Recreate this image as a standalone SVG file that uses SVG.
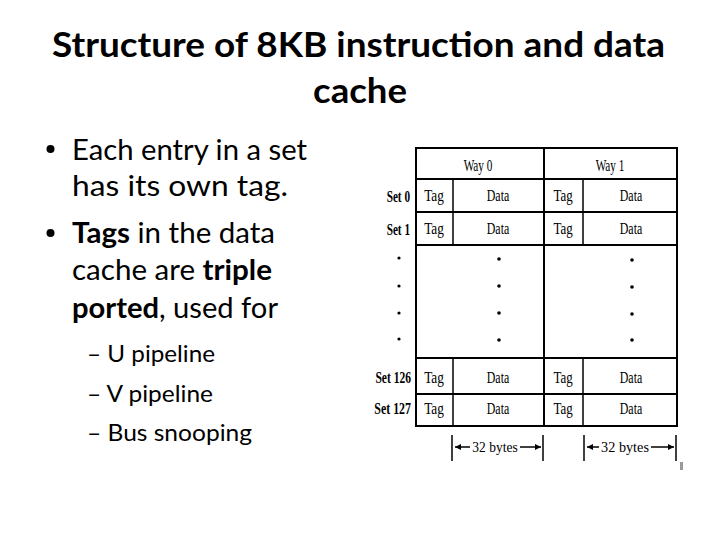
<svg xmlns="http://www.w3.org/2000/svg" width="720" height="540" viewBox="0 0 720 540">
<defs>
<style>
.title{font-family:Lato,"Open Sans","Liberation Sans",sans-serif;font-weight:bold;font-size:34px;fill:#000}
.b{font-family:Lato,"Open Sans","Liberation Sans",sans-serif;font-size:28px;fill:#000}
.s{font-family:Lato,"Open Sans","Liberation Sans",sans-serif;font-size:24px;fill:#000}
.bold{font-weight:bold}
.t{font-family:"Liberation Serif","Times New Roman",serif;font-size:17px;fill:#000;text-anchor:middle}
.d{font-family:"Liberation Serif","Times New Roman",serif;font-size:15px;fill:#000;text-anchor:middle}
.lab{font-family:"Liberation Serif","Times New Roman",serif;font-size:17px;fill:#000;text-anchor:end;font-weight:bold}
.ln{stroke:#000;stroke-width:2;fill:none}
.thin{stroke:#000;stroke-width:1.5;fill:none}
.dot{fill:#000}
</style>
<marker id="ah" viewBox="0 0 10 10" refX="10" refY="5" markerWidth="10" markerHeight="6" markerUnits="userSpaceOnUse" orient="auto-start-reverse">
<path d="M0,0 L10,5 L0,10 z" fill="#000"/>
</marker>
</defs>
<rect width="720" height="540" fill="#fff"/>
<g id="title">
<text class="title" x="52" y="57" textLength="613" lengthAdjust="spacingAndGlyphs">Structure of 8KB instruction and data</text>
<text class="title" x="313" y="103" textLength="94" lengthAdjust="spacingAndGlyphs">cache</text>
</g>
<g id="bullets">
<circle class="dot" cx="50.5" cy="149" r="4"/>
<text class="b" x="72" y="160" textLength="235" lengthAdjust="spacingAndGlyphs">Each entry in a set</text>
<text class="b" x="72" y="196" textLength="216" lengthAdjust="spacingAndGlyphs">has its own tag.</text>
<circle class="dot" cx="50.5" cy="233" r="4"/>
<text class="b" x="72" y="243" textLength="203" lengthAdjust="spacingAndGlyphs"><tspan class="bold">Tags</tspan> in the data</text>
<text class="b" x="72" y="280" textLength="200" lengthAdjust="spacingAndGlyphs">cache are <tspan class="bold">triple</tspan></text>
<text class="b" x="72" y="318" textLength="206" lengthAdjust="spacingAndGlyphs"><tspan class="bold">ported</tspan>, used for</text>
<text class="s" x="87" y="362" textLength="128" lengthAdjust="spacingAndGlyphs">– U pipeline</text>
<text class="s" x="87" y="402" textLength="126" lengthAdjust="spacingAndGlyphs">– V pipeline</text>
<text class="s" x="87" y="441" textLength="165" lengthAdjust="spacingAndGlyphs">– Bus snooping</text>
</g>
<g id="table">
<rect class="ln" x="416" y="148" width="261" height="278" stroke-width="2.5"/>
<line class="ln" x1="416" y1="179" x2="677" y2="179"/>
<line class="ln" x1="416" y1="212" x2="677" y2="212"/>
<line class="ln" x1="416" y1="245" x2="677" y2="245"/>
<line class="ln" x1="416" y1="358" x2="677" y2="358"/>
<line class="ln" x1="416" y1="394" x2="677" y2="394"/>
<line class="ln" x1="544" y1="148" x2="544" y2="426"/>
<line class="thin" x1="453" y1="179" x2="453" y2="245"/>
<line class="thin" x1="583" y1="179" x2="583" y2="245"/>
<line class="thin" x1="453" y1="358" x2="453" y2="426"/>
<line class="thin" x1="583" y1="358" x2="583" y2="426"/>
<text class="t" transform="translate(478,171) scale(0.66,1)">Way 0</text>
<text class="t" transform="translate(610,171) scale(0.66,1)">Way 1</text>
</g>
<g id="set0">
<text class="lab" transform="translate(410,202) scale(0.66,1)">Set 0</text>
<text class="t" transform="translate(434,201) scale(0.78,1)">Tag</text>
<text class="t" transform="translate(498,201) scale(0.7,1)">Data</text>
<text class="t" transform="translate(563,201) scale(0.76,1)">Tag</text>
<text class="t" transform="translate(631,201) scale(0.7,1)">Data</text>
</g>
<g id="set1">
<text class="lab" transform="translate(410,235) scale(0.66,1)">Set 1</text>
<text class="t" transform="translate(434,234) scale(0.78,1)">Tag</text>
<text class="t" transform="translate(498,234) scale(0.7,1)">Data</text>
<text class="t" transform="translate(563,234) scale(0.76,1)">Tag</text>
<text class="t" transform="translate(631,234) scale(0.7,1)">Data</text>
</g>
<g id="dots">
<circle class="dot" cx="399" cy="258" r="1.6"/>
<circle class="dot" cx="399" cy="286" r="1.6"/>
<circle class="dot" cx="399" cy="313" r="1.6"/>
<circle class="dot" cx="399" cy="339" r="1.6"/>
<circle class="dot" cx="499" cy="259" r="1.8"/>
<circle class="dot" cx="499" cy="286" r="1.8"/>
<circle class="dot" cx="499" cy="313" r="1.8"/>
<circle class="dot" cx="499" cy="340" r="1.8"/>
<circle class="dot" cx="632" cy="260" r="1.8"/>
<circle class="dot" cx="632" cy="287" r="1.8"/>
<circle class="dot" cx="632" cy="314" r="1.8"/>
<circle class="dot" cx="632" cy="340" r="1.8"/>
</g>
<g id="set126">
<text class="lab" transform="translate(411,383) scale(0.68,1)">Set 126</text>
<text class="t" transform="translate(434,383) scale(0.78,1)">Tag</text>
<text class="t" transform="translate(498,383) scale(0.7,1)">Data</text>
<text class="t" transform="translate(563,383) scale(0.76,1)">Tag</text>
<text class="t" transform="translate(631,383) scale(0.7,1)">Data</text>
</g>
<g id="set127">
<text class="lab" transform="translate(411,414) scale(0.7,1)">Set 127</text>
<text class="t" transform="translate(434,414) scale(0.78,1)">Tag</text>
<text class="t" transform="translate(498,414) scale(0.7,1)">Data</text>
<text class="t" transform="translate(563,414) scale(0.76,1)">Tag</text>
<text class="t" transform="translate(631,414) scale(0.7,1)">Data</text>
</g>
<g id="connectors">
<line class="thin" x1="452" y1="435" x2="452" y2="461"/>
<line class="thin" x1="543" y1="435" x2="543" y2="461"/>
<line class="thin" x1="584" y1="435" x2="584" y2="461"/>
<line class="thin" x1="676" y1="435" x2="676" y2="461"/>
<line class="thin" x1="455" y1="447" x2="470" y2="447" marker-start="url(#ah)"/>
<line class="thin" x1="520" y1="447" x2="541" y2="447" marker-end="url(#ah)"/>
<line class="thin" x1="587" y1="447" x2="599" y2="447" marker-start="url(#ah)"/>
<line class="thin" x1="651" y1="447" x2="674" y2="447" marker-end="url(#ah)"/>
</g>
<g id="dimensions">
<text class="d" transform="translate(495,452) scale(0.9,1)">32 bytes</text>
<text class="d" transform="translate(625,452) scale(0.95,1)">32 bytes</text>
</g>
<rect x="680" y="462" width="3" height="8" fill="#999"/>
</svg>
